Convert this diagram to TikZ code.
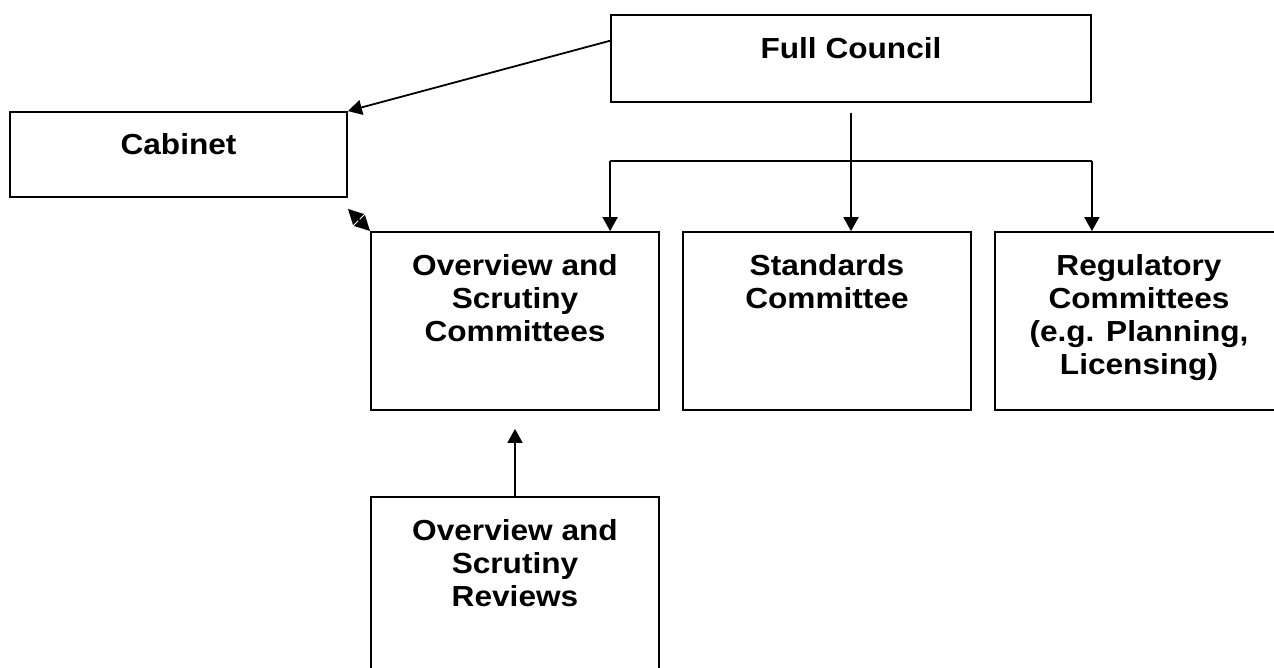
\documentclass[tikz,border=0pt]{standalone}
\usepackage{fontspec}
\setmainfont[FakeStretch=1.09]{Liberation Sans}
\usetikzlibrary{arrows.meta,calc}
\tikzset{
  box/.style={draw=black, line width=1.8pt, rectangle, inner sep=0pt, fill=white},
  lbl/.style={anchor=north, inner sep=0pt, align=center, font=\bfseries\fontsize{29}{33}\selectfont},
  conn/.style={line width=1.8pt, draw=black},
  arr/.style={conn, -{Triangle[length=14pt,width=15pt]}},
  dblarr/.style={conn, {Triangle[length=15pt,width=15pt]}-{Triangle[length=15pt,width=15pt]}}
}
\begin{document}
\begin{tikzpicture}[x=1pt,y=-1pt]
\fill[white] (0,0) rectangle (1274,668);
\useasboundingbox (0,0) rectangle (1274,668);
% boxes
\node[box, minimum width=480pt, minimum height=87pt] (fc) at (851,58.5) {};
\node[box, minimum width=337pt, minimum height=85pt] (cab) at (178.5,154.5) {};
\node[box, minimum width=288pt, minimum height=178pt] (osc) at (515,321) {};
\node[box, minimum width=288pt, minimum height=178pt] (std) at (827,321) {};
\node[box, minimum width=288pt, minimum height=178pt] (reg) at (1139,321) {};
\node[box, minimum width=288pt, minimum height=223pt] (osr) at (515,608.5) {};
% labels
\node[lbl] (fcT) at ($(fc.north)+(0,23)$) {Full Council};
\node[lbl] (cabT) at ($(cab.north)+(0,22)$) {Cabinet};
\node[lbl] (oscT) at ($(osc.north)+(0,23)$) {Overview and\\Scrutiny\\Committees};
\node[lbl] (stdT) at ($(std.north)+(0,23)$) {Standards\\Committee};
\node[lbl] (regT) at ($(reg.north)+(0,23)$) {Regulatory\\Committees\\(e.g. Planning,\\Licensing)};
\node[lbl] (osrT) at ($(osr.north)+(0,23)$) {Overview and\\Scrutiny\\Reviews};
% connectors
\draw[arr] ($(fc.north west)!0.3!(fc.south west)$) -- (cab.north east);
\coordinate (dtop) at ($(cab.south east)+(0,11)$);
\draw[dblarr] (dtop) -- (osc.north west);
\coordinate (vtop) at ($(fc.south)+(0,10)$);
\draw[arr] (vtop) -- (vtop |- std.north);
\coordinate (hL) at ($(fc.south west)+(0,58)$);
\coordinate (hR) at ($(fc.south east)+(0,58)$);
\draw[conn] (hL) -- (hR);
\draw[arr] (hL) -- (hL |- osc.north);
\draw[arr] (hR) -- (hR |- reg.north);
\coordinate (oscB) at ($(osc.south)+(0,18)$);
\draw[arr] (osr.north) -- (oscB);
\end{tikzpicture}
\end{document}
